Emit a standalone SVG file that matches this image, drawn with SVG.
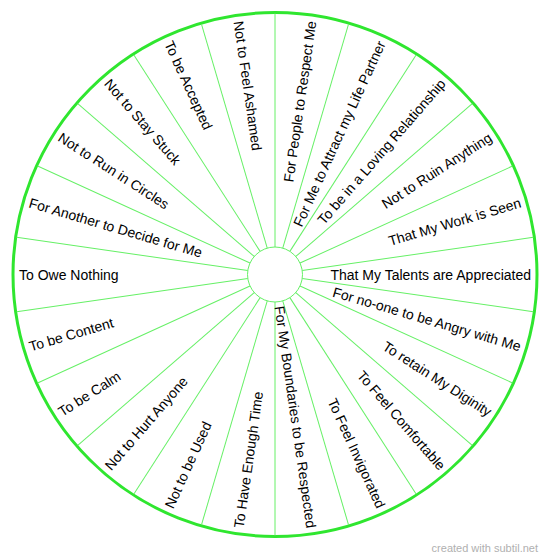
<svg xmlns="http://www.w3.org/2000/svg" width="550" height="560" viewBox="0 0 550 560">
<style>
.spoke{stroke:#66f066;stroke-width:1;fill:none}
.rim{stroke:#2fe62f;stroke-width:3;fill:#fff}
.hub{stroke:#66f066;stroke-width:1;fill:#fff}
.lbl{font-family:"Liberation Sans",Arial,sans-serif;font-size:14px;fill:#000}
.r{text-anchor:end}
.l{text-anchor:start}
.wm{font-family:"Liberation Sans",Arial,sans-serif;font-size:11px;fill:#b0b0b0}
</style>
<rect width="550" height="560" fill="#fff"/>
<circle class="rim" cx="275" cy="274.5" r="262"/>
<g id="connectors">
<line class="spoke" x1="275" y1="247" x2="275" y2="13.5" transform="rotate(0 275 274.5)"/>
<line class="spoke" x1="275" y1="247" x2="275" y2="13.5" transform="rotate(16.3636 275 274.5)"/>
<line class="spoke" x1="275" y1="247" x2="275" y2="13.5" transform="rotate(32.7273 275 274.5)"/>
<line class="spoke" x1="275" y1="247" x2="275" y2="13.5" transform="rotate(49.0909 275 274.5)"/>
<line class="spoke" x1="275" y1="247" x2="275" y2="13.5" transform="rotate(65.4545 275 274.5)"/>
<line class="spoke" x1="275" y1="247" x2="275" y2="13.5" transform="rotate(81.8182 275 274.5)"/>
<line class="spoke" x1="275" y1="247" x2="275" y2="13.5" transform="rotate(98.1818 275 274.5)"/>
<line class="spoke" x1="275" y1="247" x2="275" y2="13.5" transform="rotate(114.5455 275 274.5)"/>
<line class="spoke" x1="275" y1="247" x2="275" y2="13.5" transform="rotate(130.9091 275 274.5)"/>
<line class="spoke" x1="275" y1="247" x2="275" y2="13.5" transform="rotate(147.2727 275 274.5)"/>
<line class="spoke" x1="275" y1="247" x2="275" y2="13.5" transform="rotate(163.6364 275 274.5)"/>
<line class="spoke" x1="275" y1="247" x2="275" y2="13.5" transform="rotate(180 275 274.5)"/>
<line class="spoke" x1="275" y1="247" x2="275" y2="13.5" transform="rotate(196.3636 275 274.5)"/>
<line class="spoke" x1="275" y1="247" x2="275" y2="13.5" transform="rotate(212.7273 275 274.5)"/>
<line class="spoke" x1="275" y1="247" x2="275" y2="13.5" transform="rotate(229.0909 275 274.5)"/>
<line class="spoke" x1="275" y1="247" x2="275" y2="13.5" transform="rotate(245.4545 275 274.5)"/>
<line class="spoke" x1="275" y1="247" x2="275" y2="13.5" transform="rotate(261.8182 275 274.5)"/>
<line class="spoke" x1="275" y1="247" x2="275" y2="13.5" transform="rotate(278.1818 275 274.5)"/>
<line class="spoke" x1="275" y1="247" x2="275" y2="13.5" transform="rotate(294.5455 275 274.5)"/>
<line class="spoke" x1="275" y1="247" x2="275" y2="13.5" transform="rotate(310.9091 275 274.5)"/>
<line class="spoke" x1="275" y1="247" x2="275" y2="13.5" transform="rotate(327.2727 275 274.5)"/>
<line class="spoke" x1="275" y1="247" x2="275" y2="13.5" transform="rotate(343.6364 275 274.5)"/>
</g>
<g id="hub"><circle class="hub" cx="275" cy="274.5" r="27.5"/></g>
<g id="seg1"><text class="lbl r" x="531" y="279.5" transform="rotate(-81.8182 275 274.5)">For People to Respect Me</text></g>
<g id="seg2"><text class="lbl r" x="531" y="279.5" transform="rotate(-65.4545 275 274.5)">For Me to Attract my Life Partner</text></g>
<g id="seg3"><text class="lbl r" x="531" y="279.5" transform="rotate(-49.0909 275 274.5)">To be in a Loving Relationship</text></g>
<g id="seg4"><text class="lbl r" x="531" y="279.5" transform="rotate(-32.7273 275 274.5)">Not to Ruin Anything</text></g>
<g id="seg5"><text class="lbl r" x="531" y="279.5" transform="rotate(-16.3636 275 274.5)">That My Work is Seen</text></g>
<g id="seg6"><text class="lbl r" x="531" y="279.5">That My Talents are Appreciated</text></g>
<g id="seg7"><text class="lbl r" x="531" y="279.5" transform="rotate(16.3636 275 274.5)">For no-one to be Angry with Me</text></g>
<g id="seg8"><text class="lbl r" x="531" y="279.5" transform="rotate(32.7273 275 274.5)">To retain My Diginity</text></g>
<g id="seg9"><text class="lbl r" x="531" y="279.5" transform="rotate(49.0909 275 274.5)">To Feel Comfortable</text></g>
<g id="seg10"><text class="lbl r" x="531" y="279.5" transform="rotate(65.4545 275 274.5)">To Feel Invigorated</text></g>
<g id="seg11"><text class="lbl r" x="531" y="279.5" transform="rotate(81.8182 275 274.5)">For My Boundaries to be Respected</text></g>
<g id="seg12"><text class="lbl l" x="19" y="279.5" transform="rotate(-81.8182 275 274.5)">To Have Enough Time</text></g>
<g id="seg13"><text class="lbl l" x="19" y="279.5" transform="rotate(-65.4545 275 274.5)">Not to be Used</text></g>
<g id="seg14"><text class="lbl l" x="19" y="279.5" transform="rotate(-49.0909 275 274.5)">Not to Hurt Anyone</text></g>
<g id="seg15"><text class="lbl l" x="19" y="279.5" transform="rotate(-32.7273 275 274.5)">To be Calm</text></g>
<g id="seg16"><text class="lbl l" x="19" y="279.5" transform="rotate(-16.3636 275 274.5)">To be Content</text></g>
<g id="seg17"><text class="lbl l" x="19" y="279.5">To Owe Nothing</text></g>
<g id="seg18"><text class="lbl l" x="19" y="279.5" transform="rotate(16.3636 275 274.5)">For Another to Decide for Me</text></g>
<g id="seg19"><text class="lbl l" x="19" y="279.5" transform="rotate(32.7273 275 274.5)">Not to Run in Circles</text></g>
<g id="seg20"><text class="lbl l" x="19" y="279.5" transform="rotate(49.0909 275 274.5)">Not to Stay Stuck</text></g>
<g id="seg21"><text class="lbl l" x="19" y="279.5" transform="rotate(65.4545 275 274.5)">To be Accepted</text></g>
<g id="seg22"><text class="lbl l" x="19" y="279.5" transform="rotate(81.8182 275 274.5)">Not to Feel Ashamed</text></g>
<text class="wm" x="538" y="552" text-anchor="end">created with subtil.net</text>
</svg>
